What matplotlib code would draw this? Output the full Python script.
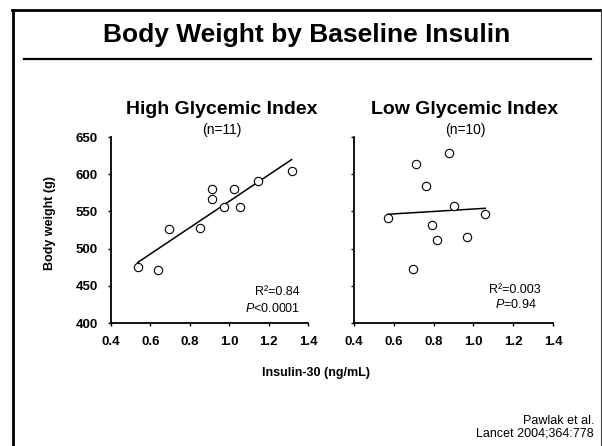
import matplotlib
matplotlib.use("Agg")
import matplotlib.pyplot as plt
import numpy as np
from matplotlib.lines import Line2D

plt.rcParams['font.family'] = ['Liberation Sans', 'DejaVu Sans']
plt.rcParams['mathtext.fontset'] = 'custom'
plt.rcParams['mathtext.rm'] = 'Liberation Sans'
plt.rcParams['mathtext.it'] = 'Liberation Sans:italic'
plt.rcParams['mathtext.bf'] = 'Liberation Sans:bold'

# Data
high_insulin = [0.535, 0.637, 0.696, 0.853, 0.914, 0.914, 0.975, 1.024, 1.056, 1.146, 1.317]
high_weight = [475, 471, 526, 528, 580, 567, 556, 580, 556, 591, 604]
low_insulin = [0.572, 0.695, 0.712, 0.762, 0.792, 0.819, 0.879, 0.903, 0.966, 1.060]
low_weight = [541, 472, 614, 584, 532, 511, 629, 557, 516, 546]

panel_titles = ["High Glycemic Index", "Low Glycemic Index"]
panel_n = ["(n=11)", "(n=10)"]
stats_r2 = ["R²=0.84", "R²=0.003"]
stats_p = ["$\\it{P}$<0.0001", "$\\it{P}$=0.94"]
xticks = [0.4, 0.6, 0.8, 1.0, 1.2, 1.4]
yticks = [400, 450, 500, 550, 600, 650]

W, H = 602, 446
fig = plt.figure(figsize=(W / 100, H / 100), dpi=100)

def fx(px):
    return px / W

def fy(py):
    return 1 - py / H

# Frame
fig.add_artist(Line2D([fx(13), fx(13)], [fy(10), fy(450)], color='black', lw=2.0, transform=fig.transFigure))
fig.add_artist(Line2D([fx(12), fx(601)], [fy(10), fy(10)], color='black', lw=2.0, transform=fig.transFigure))
fig.add_artist(Line2D([fx(601), fx(601)], [fy(10), fy(450)], color='#444444', lw=0.8, transform=fig.transFigure))
# Title underline
fig.add_artist(Line2D([fx(24), fx(591)], [fy(59), fy(59)], color='black', lw=1.6, transform=fig.transFigure))

fig.text(fx(307), fy(42), "Body Weight by Baseline Insulin", ha='center', va='baseline',
         fontsize=19, fontweight='bold')

axes_px = [(111, 308), (354, 553)]
top_px, bot_px = 137, 323
datasets = [(high_insulin, high_weight), (low_insulin, low_weight)]
title_x = [222, 465]
stat_pos = [((300, 292, 'right'), (300, 308, 'right')), ((515, 290, 'center'), (516, 305, 'center'))]

for i, ((x0, x1), (xs, ys)) in enumerate(zip(axes_px, datasets)):
    ax = fig.add_axes([fx(x0), fy(bot_px), (x1 - x0) / W, (bot_px - top_px) / H])
    ax.set_xlim(0.4, 1.4)
    ax.set_ylim(400, 650)
    for s in ['top', 'right']:
        ax.spines[s].set_visible(False)
    for s in ['left', 'bottom']:
        ax.spines[s].set_linewidth(1.3)
    ax.set_xticks(xticks)
    ax.set_xticklabels([f"{t:.1f}" for t in xticks], fontsize=9.5, fontweight='bold')
    ax.set_yticks(yticks)
    if i == 0:
        ax.set_yticklabels([str(t) for t in yticks], fontsize=9.5, fontweight='bold')
    else:
        ax.set_yticklabels([])
    ax.tick_params(direction='out', length=2.5, width=1.0, pad=7)
    xa = np.array(xs)
    ya = np.array(ys)
    m, b = np.polyfit(xa, ya, 1)
    xl = np.array([xa.min(), xa.max()])
    ax.plot(xl, m * xl + b, color='black', lw=1.1, zorder=2)
    ax.plot(xa, ya, 'o', ms=6.0, mfc='white', mec='black', mew=0.8, zorder=3, clip_on=False)
    ax.patch.set_alpha(0)

    fig.text(fx(title_x[i]), fy(110), panel_titles[i], ha='center', va='center',
             fontsize=14, fontweight='bold')
    fig.text(fx(title_x[i]), fy(130), panel_n[i], ha='center', va='center', fontsize=10)
    (rx, ry, rha), (px_, py_, pha) = stat_pos[i]
    fig.text(fx(rx), fy(ry), stats_r2[i], ha=rha, va='center', fontsize=9)
    fig.text(fx(px_), fy(py_), stats_p[i], ha=pha, va='center', fontsize=9)

fig.text(fx(50), fy(223), "Body weight (g)", rotation=90, ha='center', va='center',
         fontsize=9, fontweight='bold')
fig.text(fx(316), fy(373), "Insulin-30 (ng/mL)", ha='center', va='center',
         fontsize=9, fontweight='bold')
fig.text(fx(594), fy(421), "Pawlak et al.", ha='right', va='center', fontsize=9)
fig.text(fx(594), fy(434), "Lancet 2004;364:778", ha='right', va='center', fontsize=9)

fig.savefig("out.png", dpi=100)
